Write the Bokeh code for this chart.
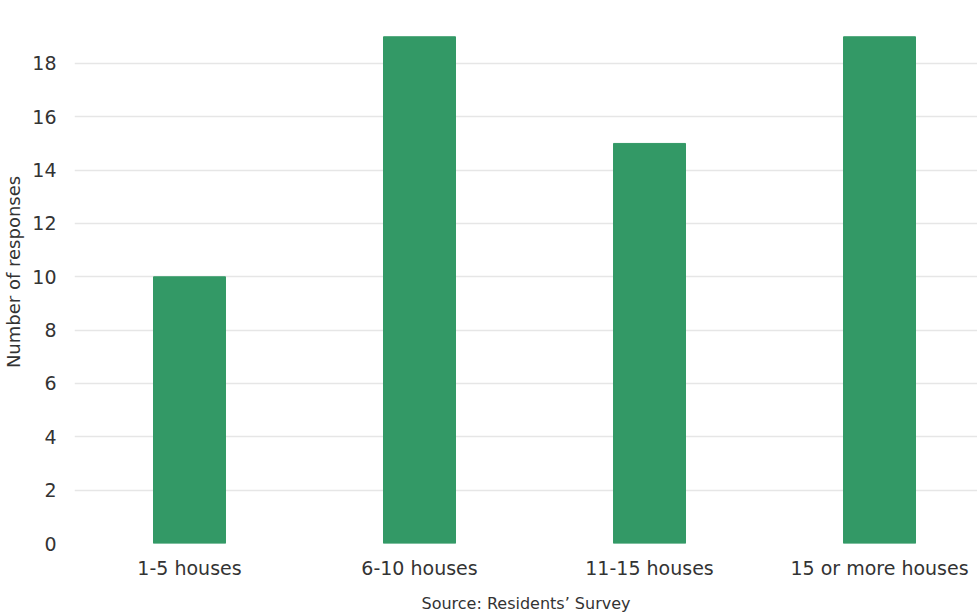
from bokeh.plotting import figure
from bokeh.models import Range1d, FixedTicker
from bokeh.embed import file_html
from bokeh.resources import INLINE

categories = ["1-5 houses", "6-10 houses", "11-15 houses", "15 or more houses"]
responses = [10, 19, 15, 19]
y_ticks = [0, 2, 4, 6, 8, 10, 12, 14, 16, 18]
source_text = "Source: Residents\u2019 Survey"

FONT = "DejaVu Sans"
positions = list(range(len(categories)))

p = figure(width=977, height=615, output_backend="svg", toolbar_location=None,
           x_range=Range1d(-0.5, 3.426), y_range=Range1d(0, 20.36),
           min_border_left=74, min_border_right=0, min_border_top=0, min_border_bottom=72)
p.outline_line_color = None
p.background_fill_color = "white"
p.border_fill_color = "white"

p.vbar(x=positions, top=responses, width=0.313, color="#339966", line_color="#339966")

p.xaxis.ticker = FixedTicker(ticks=positions)
p.xaxis.major_label_overrides = {i: c for i, c in enumerate(categories)}
p.yaxis.ticker = FixedTicker(ticks=y_ticks)

for ax in (p.xaxis, p.yaxis):
    ax.axis_line_color = None
    ax.major_tick_line_color = None
    ax.minor_tick_line_color = None
    ax.major_tick_out = 0
    ax.major_tick_in = 0
    ax.major_label_text_font = FONT
    ax.major_label_text_font_size = "19px"
    ax.major_label_text_color = "#333333"
    ax.axis_label_text_font = FONT
    ax.axis_label_text_font_style = "normal"
    ax.axis_label_text_color = "#333333"

p.xaxis.major_label_standoff = 13
p.xaxis.axis_label = source_text
p.xaxis.axis_label_text_font_size = "16px"
p.xaxis.axis_label_standoff = 12

p.yaxis.major_label_standoff = 18
p.yaxis.axis_label = "Number of responses"
p.yaxis.axis_label_text_font_size = "18px"
p.yaxis.axis_label_standoff = 5

p.xgrid.grid_line_color = None
p.ygrid.grid_line_color = "#e6e6e6"
p.ygrid.grid_line_width = 1.5

open("out.html", "w").write(file_html(p, INLINE))
